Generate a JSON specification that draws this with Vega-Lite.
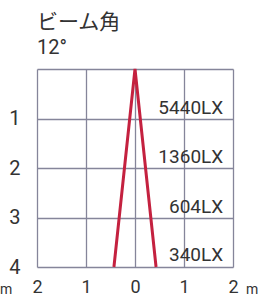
{
  "$schema": "https://vega.github.io/schema/vega-lite/v6.json",
  "width": 196,
  "height": 198,
  "autosize": {"type": "none"},
  "padding": {"left": 37, "top": 69, "right": 30, "bottom": 31},
  "background": "white",
  "config": {"view": {"stroke": null}},
  "title": {
    "text": "ビーム角",
    "subtitle": "12°",
    "anchor": "start",
    "frame": "group",
    "font": "Noto Sans CJK JP",
    "fontSize": 21,
    "fontWeight": "normal",
    "color": "#333333",
    "subtitleFont": "Roboto",
    "subtitleFontSize": 20,
    "subtitleColor": "#333333",
    "subtitlePadding": 5,
    "offset": 1
  },
  "datasets": {
    "beam": [
      {"x": -0.43, "depth": 4, "o": 1},
      {"x": 0, "depth": 0, "o": 2},
      {"x": 0.43, "depth": 4, "o": 3}
    ],
    "lux": [
      {"x": 1.8, "depth": 0.79, "t": "5440LX"},
      {"x": 1.8, "depth": 1.78, "t": "1360LX"},
      {"x": 1.8, "depth": 2.79, "t": "604LX"},
      {"x": 1.8, "depth": 3.76, "t": "340LX"}
    ],
    "unit": [
      {"x": -2.63, "depth": 4.47, "t": "m"},
      {"x": 2.39, "depth": 4.47, "t": "m"}
    ]
  },
  "layer": [
    {
      "data": {"name": "beam"},
      "mark": {"type": "line", "color": "#c4213f", "strokeWidth": 3, "clip": false},
      "encoding": {
        "x": {
          "field": "x", "type": "quantitative",
          "scale": {"domain": [-2, 2], "nice": false, "zero": false},
          "axis": {
            "values": [-2, -1, 0, 1, 2],
            "labelExpr": "abs(datum.value)",
            "grid": true, "gridColor": "#85859a", "gridWidth": 1.3,
            "ticks": false, "domain": false, "title": null,
            "labelPadding": 11, "labelFontSize": 18, "labelColor": "#333333",
            "labelFont": "Roboto",
            "labelFlush": false, "labelOverlap": false
          }
        },
        "y": {
          "field": "depth", "type": "quantitative",
          "scale": {"domain": [0, 4], "reverse": true, "nice": false, "zero": false},
          "axis": {
            "values": [0, 1, 2, 3, 4],
            "labelExpr": "datum.value == 0 ? '' : datum.label",
            "grid": true, "gridColor": "#85859a", "gridWidth": 1.3,
            "ticks": false, "domain": false, "title": null,
            "labelPadding": 17, "labelFontSize": 20, "labelColor": "#333333",
            "labelFont": "Roboto",
            "labelFlush": false, "labelOverlap": false
          }
        },
        "order": {"field": "o"}
      }
    },
    {
      "data": {"name": "lux"},
      "mark": {"type": "text", "align": "right", "baseline": "middle", "fontSize": 19, "color": "#333333",
               "font": "Roboto"},
      "encoding": {
        "x": {"field": "x", "type": "quantitative"},
        "y": {"field": "depth", "type": "quantitative"},
        "text": {"field": "t"}
      }
    },
    {
      "data": {"name": "unit"},
      "mark": {"type": "text", "align": "center", "baseline": "middle", "fontSize": 14, "color": "#333333", "clip": false,
               "font": "Roboto"},
      "encoding": {
        "x": {"field": "x", "type": "quantitative"},
        "y": {"field": "depth", "type": "quantitative"},
        "text": {"field": "t"}
      }
    }
  ]
}
